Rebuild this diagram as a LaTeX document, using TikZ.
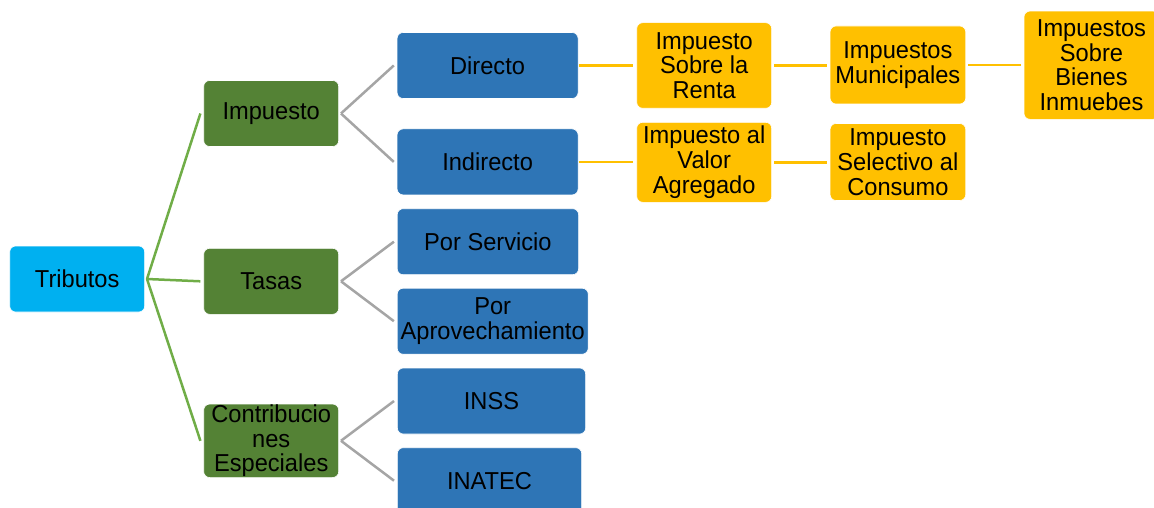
\documentclass[tikz,border=0pt]{standalone}
\usepackage{fontspec}
\setmainfont{Liberation Sans}[FakeStretch=0.965]
\definecolor{cyanb}{HTML}{00B0F0}
\definecolor{greenb}{HTML}{548235}
\definecolor{blueb}{HTML}{2E75B6}
\definecolor{yellowb}{HTML}{FFC000}
\definecolor{greenl}{HTML}{70AD47}
\definecolor{grayl}{HTML}{A5A5A5}
\tikzset{
  box/.style={rectangle, rounded corners=6pt, inner sep=0pt, align=center,
    font=\fontsize{24.5}{24.8}\selectfont, text=black, draw=white, line width=0.6pt},
  rootbox/.style={box, fill=cyanb},
  greenbox/.style={box, fill=greenb},
  bluebox/.style={box, fill=blueb},
  yellowbox/.style={box, fill=yellowb},
  glink/.style={draw=greenl, line width=2.5pt},
  graylink/.style={draw=grayl, line width=2.5pt},
  ylink/.style={draw=yellowb, line width=2.5pt},
}
\begin{document}
\begin{tikzpicture}[x=1pt,y=-1pt]
\useasboundingbox (0,0) rectangle (1154,508);
\fill[white] (0,0) rectangle (1154,508);

% root
\node[rootbox, minimum width=135pt, minimum height=66pt] (trib) at (77.2,279) {Tributos};

% level 1
\node[greenbox, minimum width=135pt, minimum height=66pt] (imp) at (271.2,113.5) {Impuesto};
\node[greenbox, minimum width=135pt, minimum height=66pt] (tasas) at (271.2,281.3) {Tasas};
\node[greenbox, minimum width=135pt, minimum height=73.5pt] (contrib) at (271.2,440.8) {Contribucio\\nes\\Especiales};

% level 2
\node[bluebox, minimum width=181pt, minimum height=66pt] (dir) at (487.6,65.5) {Directo};
\node[bluebox, minimum width=181pt, minimum height=66pt] (ind) at (487.6,161.9) {Indirecto};
\node[bluebox, minimum width=181.4pt, minimum height=66pt] (serv) at (487.9,241.7) {Por Servicio};
\node[bluebox, minimum width=191pt, minimum height=66pt] (aprov) at (492.7,321.2) {Por\\Aprovechamiento};
\node[bluebox, minimum width=188.3pt, minimum height=66pt] (inss) at (491.5,401) {INSS};
\node[bluebox, minimum width=184.4pt, minimum height=66pt] (inatec) at (489.5,480.7) {INATEC};

% level 3+
\node[yellowbox, minimum width=135pt, minimum height=85.6pt] (isr) at (704.2,65.5) {Impuesto\\Sobre la\\Renta};
\node[yellowbox, minimum width=135.7pt, minimum height=78pt] (mun) at (897.9,65) {Impuestos\\Municipales};
\node[yellowbox, minimum width=135pt, minimum height=108.3pt] (isbi) at (1091.5,65.2) {Impuestos\\Sobre\\Bienes\\Inmuebes};
\node[yellowbox, minimum width=135pt, minimum height=80pt] (iva) at (704.2,162.3) {Impuesto al\\Valor\\Agregado};
\node[yellowbox, minimum width=135.7pt, minimum height=77pt] (isc) at (897.9,162) {Impuesto\\Selectivo al\\Consumo};

% connectors
\draw[glink] ([xshift=2pt]trib.east) -- ([xshift=-3pt]imp.west);
\draw[glink] ([xshift=2pt]trib.east) -- ([xshift=-3pt]tasas.west);
\draw[glink] ([xshift=2pt]trib.east) -- ([xshift=-3pt]contrib.west);

\draw[graylink] ([xshift=2pt]imp.east) -- ([xshift=-3pt]dir.west);
\draw[graylink] ([xshift=2pt]imp.east) -- ([xshift=-3pt]ind.west);
\draw[graylink] ([xshift=2pt]tasas.east) -- ([xshift=-3pt]serv.west);
\draw[graylink] ([xshift=2pt]tasas.east) -- ([xshift=-3pt]aprov.west);
\draw[graylink] ([xshift=2pt]contrib.east) -- ([xshift=-3pt]inss.west);
\draw[graylink] ([xshift=2pt]contrib.east) -- ([xshift=-3pt]inatec.west);

\draw[ylink] ([xshift=1pt]dir.east) -- ([xshift=-3pt]dir.east -| isr.west);
\draw[ylink] ([xshift=2pt]isr.east) -- ([xshift=-3pt]isr.east -| mun.west);
\draw[ylink] ([xshift=2pt]mun.east) -- ([xshift=-3pt]mun.east -| isbi.west);
\draw[ylink] ([xshift=1pt]ind.east) -- ([xshift=-3pt]ind.east -| iva.west);
\draw[ylink] ([xshift=2pt]iva.east) -- ([xshift=-3pt]iva.east -| isc.west);
\end{tikzpicture}
\end{document}
